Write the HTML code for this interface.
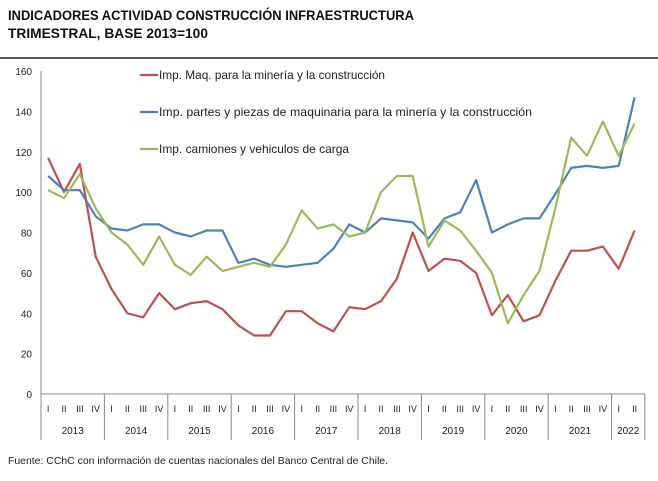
<!DOCTYPE html>
<html><head><meta charset="utf-8"><style>
body{margin:0;background:#fff;width:658px;height:476px;overflow:hidden;font-family:"Liberation Sans",sans-serif}
</style></head><body>
<svg id="chart" width="658" height="476" xmlns="http://www.w3.org/2000/svg" font-family="Liberation Sans, sans-serif">
<text x="8" y="20" font-size="14" font-weight="bold" fill="#111" textLength="406" lengthAdjust="spacingAndGlyphs">INDICADORES ACTIVIDAD CONSTRUCCIÓN INFRAESTRUCTURA</text>
<text x="8" y="38" font-size="14" font-weight="bold" fill="#111" textLength="200" lengthAdjust="spacingAndGlyphs">TRIMESTRAL, BASE 2013=100</text>
<line x1="0" y1="58" x2="658" y2="58" stroke="#222" stroke-width="1.5"/>
<g id="axes"></g>
<g id="series"></g>
<g id="legend"></g>
<text x="8" y="464" font-size="10" fill="#222" textLength="380" lengthAdjust="spacingAndGlyphs">Fuente: CChC con información de cuentas nacionales del Banco Central de Chile.</text>
</svg>
<script>
const years=["2013","2014","2015","2016","2017","2018","2019","2020","2021","2022"];
const quarters=["I","II","III","IV"];
const yTicks=[0,20,40,60,80,100,120,140,160];
const seriesNames=["Imp. Maq. para la minería y la construcción","Imp. partes y piezas de maquinaria para la minería y la construcción","Imp. camiones y vehiculos de carga"];
const legendLengths=[226,373,190];
const redValues=[117,100,114,68,52,40,38,50,42,45,46,42,34,29,29,41,41,35,31,43,42,46,57,80,61,67,66,60,39,49,36,39,56,71,71,73,62,81];
const blueValues=[108,101,101,88,82,81,84,84,80,78,81,81,65,67,64,63,64,65,72,84,80,87,86,85,77,87,90,106,80,84,87,87,99,112,113,112,113,147];
const greenValues=[101,97,109,92,80,74,64,78,64,59,68,61,63,65,63,74,91,82,84,78,80,100,108,108,73,86,81,71,60,35,49,61,92,127,118,135,118,134];
const colors=["#c0504d","#4f81bd","#9bbb59"];
const NS="http://www.w3.org/2000/svg";
const x0=41,qw=15.85,yBase=394,yTop=71;
const xs=i=>x0+qw*(i+0.45);
const ys=v=>yBase-(v/160)*(yBase-yTop);
function mk(t,a,p){const e=document.createElementNS(NS,t);for(const k in a)e.setAttribute(k,a[k]);p.appendChild(e);return e;}
const axes=document.getElementById('axes');
let e=mk('line',{x1:x0,y1:yTop,x2:x0,y2:yBase,stroke:'#888'},axes);


const n=redValues.length;
const xEnd=x0+qw*n+1.5;
e=mk('line',{x1:x0,y1:yBase,x2:xEnd,y2:yBase,stroke:'#888'},axes);


yTicks.forEach(v=>{const t=mk('text',{x:32,y:ys(v)+4,'font-size':10,'text-anchor':'end',fill:'#222'},axes);t.textContent=v;

});
let idx=0;
years.forEach((yr,yi)=>{
  const start=idx;const nq=Math.min(4,n-idx);
  for(let q=0;q<nq;q++){const t=mk('text',{x:xs(idx),y:412,'font-size':9,'text-anchor':'middle',fill:'#222'},axes);t.textContent=quarters[q];
  
  idx++;}
  const xa=x0+qw*start, xb=(idx>=n)?xEnd:x0+qw*idx;
  const s=mk('line',{x1:xa,y1:yBase,x2:xa,y2:440,stroke:'#888'},axes);
  
  
  const t=mk('text',{x:(xa+xb)/2,y:434,'font-size':10,'text-anchor':'middle',fill:'#222'},axes);t.textContent=yr;
  
  
});
e=mk('line',{x1:xEnd,y1:yBase,x2:xEnd,y2:440,stroke:'#888'},axes);


const sg=document.getElementById('series');
[redValues,blueValues,greenValues].forEach((arr,k)=>{
  const p=mk('polyline',{points:arr.map((v,i)=>xs(i).toFixed(1)+','+ys(v).toFixed(1)).join(' '),fill:'none',stroke:colors[k],'stroke-width':2.2,'stroke-linejoin':'round'},sg);
  
  
});
const lg=document.getElementById('legend');
seriesNames.forEach((nm,k)=>{
  const y=75+k*37;
  const l=mk('line',{x1:140,y1:y,x2:158,y2:y,stroke:colors[k],'stroke-width':2.2},lg);
  
  
  const t=mk('text',{x:159,y:y+4,'font-size':12,fill:'#222',textLength:legendLengths[k],lengthAdjust:'spacingAndGlyphs'},lg);t.textContent=nm;
  
  
});
</script>
</body></html>
